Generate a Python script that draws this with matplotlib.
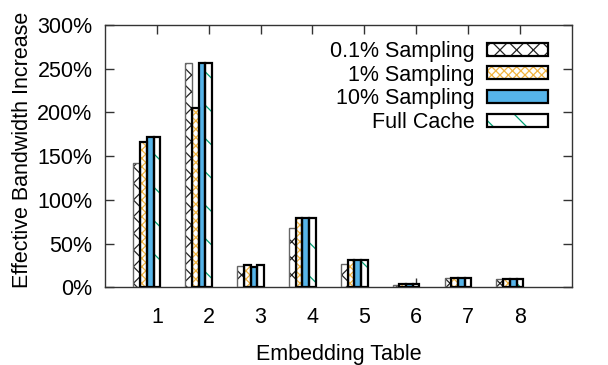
import numpy as np
import matplotlib
matplotlib.use("Agg")
import matplotlib.pyplot as plt
from matplotlib.patches import Patch
from matplotlib.legend_handler import HandlerTuple

plt.rcParams['font.family'] = ['Liberation Sans', 'DejaVu Sans']
plt.rcParams['hatch.linewidth'] = 0.9

tables = [1, 2, 3, 4, 5, 6, 7, 8]
series = ['0.1% Sampling', '1% Sampling', '10% Sampling', 'Full Cache']
vals_01 = [142.7, 256.9, 24.4, 67.5, 26.4, 2.5, 11.0, 9.2]
vals_1 = [166.7, 204.6, 25.3, 79.0, 31.3, 4.2, 11.0, 10.0]
vals_10 = [171.7, 256.9, 23.3, 79.0, 31.3, 4.2, 11.0, 10.0]
vals_full = [171.7, 256.9, 25.3, 79.0, 31.3, 4.2, 11.0, 9.8]
yticks = [0, 50, 100, 150, 200, 250, 300]

# (fill colour, hatch, hatch colour, border colour, border width)
styles = [
    ('white', 'xx', '#222222', '#666666', 1.0),
    ('white', 'xxxx', '#F2B440', 'black', 1.6),
    ('#56B4E9', '', '#56B4E9', 'black', 1.6),
    ('white', '\\', '#009E73', 'black', 1.6),
]
data = [vals_01, vals_1, vals_10, vals_full]

fig = plt.figure(figsize=(6.08, 3.65), dpi=100)
ax = fig.add_axes([0.1727, 0.2129, 0.9403 - 0.1727, 0.9315 - 0.2129])

w = 0.129
x = np.array(tables, dtype=float)
handles = []
for i, (vals, st) in enumerate(zip(data, styles)):
    fc, hatch, hc, ec, lw = st
    pos = x + (i - 3) * w
    ax.bar(pos, vals, w, color=fc, hatch=hatch, edgecolor=hc, linewidth=0, zorder=2)
    ax.bar(pos, vals, w, fill=False, edgecolor=ec, linewidth=lw, zorder=3)
    h1 = Patch(facecolor=fc, hatch=hatch, edgecolor=hc, linewidth=0)
    h2 = Patch(fill=False, edgecolor='black', linewidth=1.6)
    handles.append((h1, h2))

ax.set_xlim(0, 9)
ax.set_ylim(0, 300)
ax.set_xticks(tables)
ax.set_yticks(yticks)
ax.set_yticklabels(['%d%%' % v for v in yticks])
ax.set_axisbelow(True)
ax.tick_params(axis='both', direction='in', length=6.5, width=1, labelsize=15.5,
               top=True, right=True, color='#333333')
ax.tick_params(axis='x', pad=14)
ax.tick_params(axis='y', pad=9)
for s in ax.spines.values():
    s.set_linewidth(1.0)
    s.set_color('#333333')

ax.set_xlabel('Embedding Table', fontsize=15.5, labelpad=12)
ax.set_ylabel('Effective Bandwidth Increase', fontsize=15.5)
ax.yaxis.set_label_coords(-0.155, 0.525)

ax.legend(handles, series, handler_map={tuple: HandlerTuple(ndivide=1, pad=0)},
          loc='upper right', bbox_to_anchor=(0.967, 0.972), frameon=False,
          markerfirst=False, fontsize=15.5, handlelength=2.8, handleheight=0.55,
          labelspacing=0.12, handletextpad=0.6, borderaxespad=0)

fig.savefig('out.png', dpi=100)
